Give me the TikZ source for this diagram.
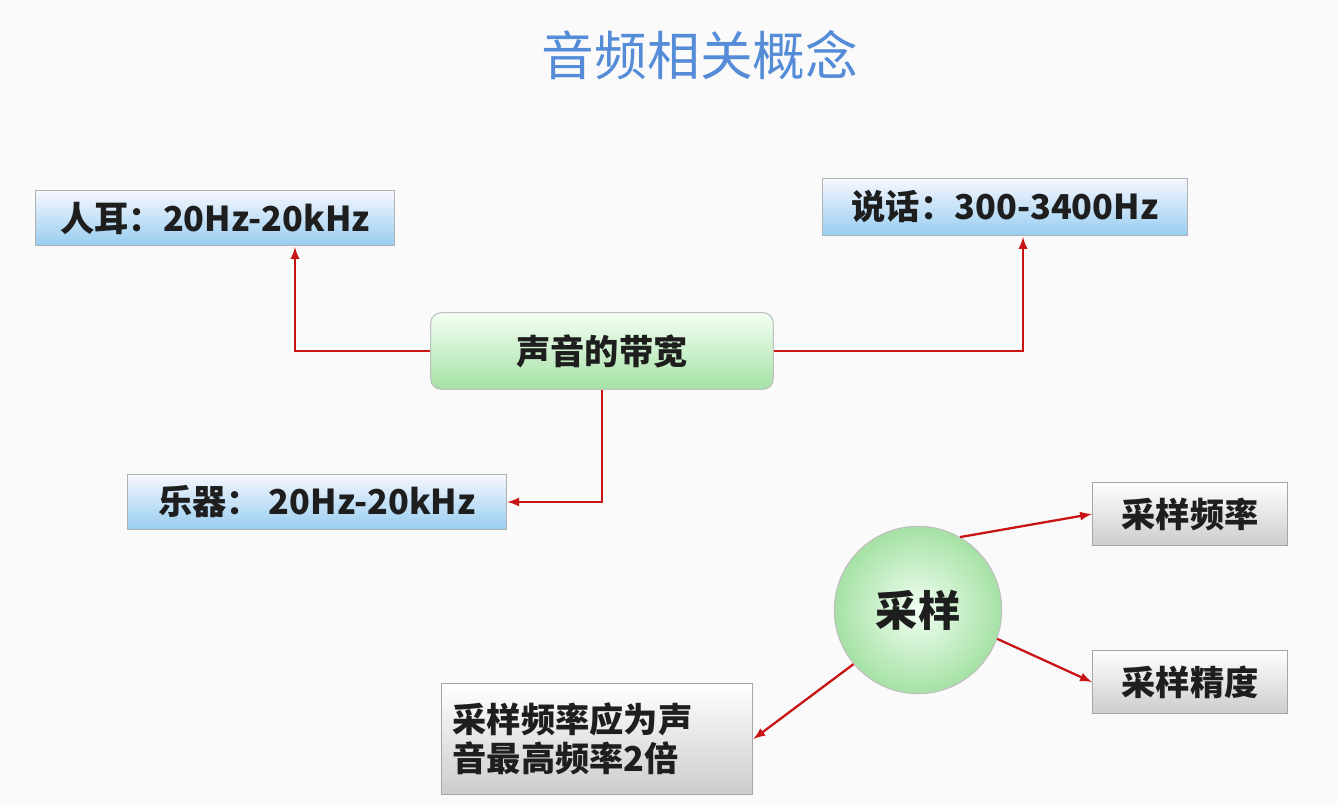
\documentclass[tikz,border=0pt]{standalone}
\usepackage{fontspec}
\setmainfont{Noto Sans CJK SC}
\usetikzlibrary{positioning}
\definecolor{titleblue}{RGB}{85,140,215}
\definecolor{boxblue}{RGB}{150,205,240}
\definecolor{boxgreen}{RGB}{165,225,165}
\definecolor{arrowred}{RGB}{200,20,20}
\definecolor{textdark}{RGB}{30,30,30}

\begin{document}
\begin{tikzpicture}[x=0.02cm, y=-0.02cm, semithick,
            bluebox/.style ={ rectangle, top color=blue!3, bottom color=boxblue, draw=gray!60,
            text=textdark, font=\bfseries\fontsize{19.5}{23}\selectfont},
            greenbox/.style ={ rectangle, rounded corners=6pt, top color=green!5, bottom color=boxgreen,
            draw=gray!50, text=textdark, font=\bfseries\fontsize{19.5}{23}\selectfont},
            graybox/.style ={ rectangle, top color=white, bottom color=gray!40, draw=gray!70,
            text=textdark, font=\bfseries\fontsize{19.5}{22}\selectfont},
            link/.style ={ draw=arrowred, line width=1.3pt, -latex}]

        \useasboundingbox[fill=gray!4] (0,0) rectangle (1337,805);

        \node[text=titleblue, font=\fontsize{30}{34}\selectfont] (title) at (700,55) {音频相关概念};

        %cajas de la banda
        \node[bluebox, minimum width=360*0.567pt, minimum height=56*0.567pt] (ear) at (215,218) {人耳：20Hz-20kHz};
        \node[bluebox, minimum width=366*0.567pt, minimum height=58*0.567pt] (talk) at (1005,207) {说话：300-3400Hz};
        \node[greenbox, minimum width=344*0.567pt, minimum height=77*0.567pt] (band) at (602,351) {声音的带宽};
        \node[bluebox, minimum width=381*0.567pt, minimum height=56*0.567pt] (instr) at (317,502) {乐器： 20Hz-20kHz};
        \coordinate (earin) at (295,247);
        \coordinate (talkin) at (1023,237);

        %muestreo
        \node[circle, draw=gray!50, inner color=green!5, outer color=boxgreen, minimum size=168*0.567pt,
            text=textdark, font=\bfseries\fontsize{24}{28}\selectfont] (samp) at (918,610) {采样};
        \node[graybox, minimum width=196*0.567pt, minimum height=64*0.567pt] (rate) at (1190,514) {采样频率};
        \node[graybox, minimum width=196*0.567pt, minimum height=64*0.567pt] (depth) at (1190,682) {采样精度};
        \node[graybox, minimum width=313*0.567pt, minimum height=112*0.567pt, align=left, text width=290*0.567pt] (rule) at (597,739) {采样频率应为声\\音最高频率2倍};

        \path[link] (band.west) -| (earin);
        \path[link] (band.east) -| (talkin);
        \path[link] (band.south) |- (instr.east);

        \path[link] (samp.60) -- (rate.west);
        \path[link] (samp.-20) -- (depth.west);
        \path[link] (samp.220) -- (rule.east);

    \end{tikzpicture}
\end{document}
